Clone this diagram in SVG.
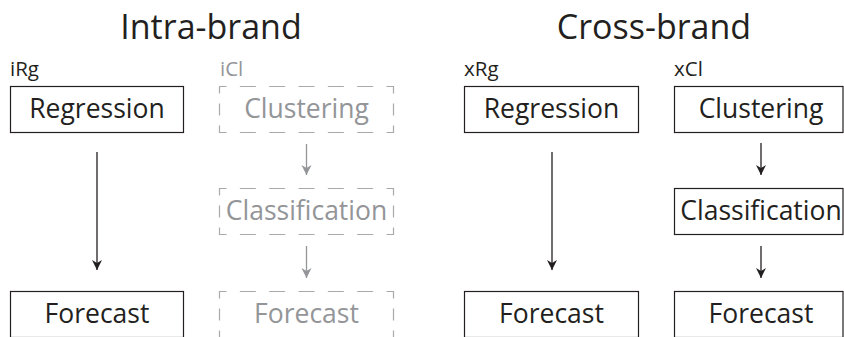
<svg xmlns="http://www.w3.org/2000/svg" width="844" height="337" viewBox="0 0 844 337">
  <style>
    text { font-family: "Open Sans", "Noto Sans", "Liberation Sans", sans-serif; }
    .title { font-size: 34px; fill: #231f20; text-anchor: middle; }
    .tag { font-size: 20.5px; fill: #231f20; }
    .tag.off { fill: #939598; }
    .box { fill: #ffffff; stroke: #231f20; stroke-width: 1.2; }
    /* dashes laid out so every corner gets an L-shaped piece */
    .box.off { stroke: #a7a9ac; stroke-dasharray: 14 13.33 16 13.33 16 13.33 16 13.33 16 13.33 16 13.33 14 10 12 10; stroke-dashoffset: 7; }
    .lbl { font-size: 26.5px; fill: #231f20; text-anchor: middle; }
    .lbl.off { fill: #939598; }
    .edge { stroke: #231f20; stroke-width: 1.3; fill: none; marker-end: url(#head); }
    .edge.off { stroke: #939598; marker-end: url(#headOff); }
  </style>
  <defs>
    <marker id="head" markerUnits="userSpaceOnUse" markerWidth="12" markerHeight="12" viewBox="-11 -6 12 12" refX="0" refY="0" orient="auto">
      <path d="M0,0 L-10,-5 L-7,0 L-10,5 Z" fill="#231f20"/>
    </marker>
    <marker id="headOff" markerUnits="userSpaceOnUse" markerWidth="12" markerHeight="12" viewBox="-11 -6 12 12" refX="0" refY="0" orient="auto">
      <path d="M0,0 L-10,-5 L-7,0 L-10,5 Z" fill="#939598"/>
    </marker>
  </defs>

  <!-- section headings -->
  <text class="title" x="211" y="39">Intra-brand</text>
  <text class="title" x="654" y="39">Cross-brand</text>

  <!-- connectors -->
  <g id="connectors">
    <path class="edge" d="M97,152 V270"/>
    <path class="edge off" d="M306.5,144 V175"/>
    <path class="edge off" d="M306.5,246 V278"/>
    <path class="edge" d="M552,152 V270"/>
    <path class="edge" d="M761,143 V175"/>
    <path class="edge" d="M761,246 V278"/>
  </g>

  <!-- intra-brand regression -->
  <g id="iRg">
    <text class="tag" x="10" y="76">iRg</text>
    <g id="iRg-regression">
      <rect class="box" x="10.5" y="86.5" width="173" height="46"/>
      <text class="lbl" x="97" y="118">Regression</text>
    </g>
    <g id="iRg-forecast">
      <rect class="box" x="10.5" y="291.5" width="173" height="46"/>
      <text class="lbl" x="97" y="323">Forecast</text>
    </g>
  </g>

  <!-- intra-brand clustering (inactive) -->
  <g id="iCl">
    <text class="tag off" x="220" y="76">iCl</text>
    <g id="iCl-clustering">
      <rect class="box off" x="219.5" y="86.5" width="174" height="46"/>
      <text class="lbl off" x="306.5" y="118">Clustering</text>
    </g>
    <g id="iCl-classification">
      <rect class="box off" x="219.5" y="188.5" width="174" height="46"/>
      <text class="lbl off" x="306.5" y="220">Classification</text>
    </g>
    <g id="iCl-forecast">
      <rect class="box off" x="219.5" y="291.5" width="174" height="46"/>
      <text class="lbl off" x="306.5" y="323">Forecast</text>
    </g>
  </g>

  <!-- cross-brand regression -->
  <g id="xRg">
    <text class="tag" x="464" y="76">xRg</text>
    <g id="xRg-regression">
      <rect class="box" x="464.5" y="86.5" width="174" height="46"/>
      <text class="lbl" x="551.5" y="118">Regression</text>
    </g>
    <g id="xRg-forecast">
      <rect class="box" x="464.5" y="291.5" width="174" height="46"/>
      <text class="lbl" x="551.5" y="323">Forecast</text>
    </g>
  </g>

  <!-- cross-brand clustering -->
  <g id="xCl">
    <text class="tag" x="674" y="76">xCl</text>
    <g id="xCl-clustering">
      <rect class="box" x="674.5" y="86.5" width="168.5" height="46"/>
      <text class="lbl" x="761" y="118">Clustering</text>
    </g>
    <g id="xCl-classification">
      <rect class="box" x="674.5" y="188.5" width="168.5" height="46"/>
      <text class="lbl" x="761" y="220">Classification</text>
    </g>
    <g id="xCl-forecast">
      <rect class="box" x="674.5" y="291.5" width="168.5" height="46"/>
      <text class="lbl" x="761" y="323">Forecast</text>
    </g>
  </g>
</svg>
